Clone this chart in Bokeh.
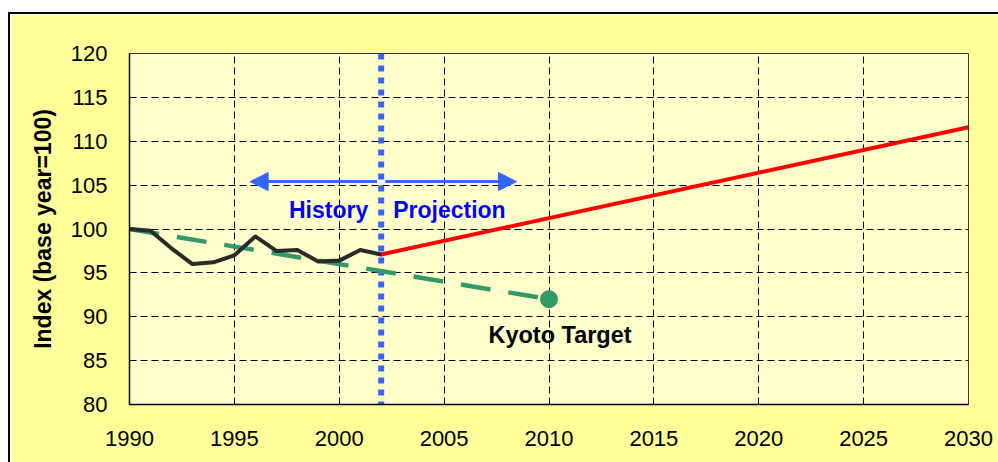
from bokeh.plotting import figure
from bokeh.models import (Range1d, FixedTicker, Arrow, NormalHead, Spacer)
from bokeh.layouts import column, row
from bokeh.core.properties import value
from bokeh.embed import file_html
from bokeh.resources import INLINE

# ---- data ----
history_years = [1990, 1991, 1992, 1993, 1994, 1995, 1996, 1997, 1998, 1999, 2000, 2001, 2002]
history_index = [100.0, 99.8, 97.8, 96.0, 96.2, 97.0, 99.15, 97.5, 97.6, 96.3, 96.4, 97.6, 97.1]

projection_years = [2002, 2030]
projection_index = [97.1, 111.6]

target_years = [1990, 2010]
target_index = [100.0, 92.0]

kyoto_year = [2010]
kyoto_value = [92.0]

divider_year = 2002
arrow_left_year = 1995.75
arrow_right_year = 2008.45
arrow_level = 105.4

x_ticks = [1990, 1995, 2000, 2005, 2010, 2015, 2020, 2025, 2030]
y_ticks = [80, 85, 90, 95, 100, 105, 110, 115, 120]

FONT = "Liberation Sans"

p = figure(width=988, height=448, output_backend="svg", toolbar_location=None,
           x_range=Range1d(1990, 2030), y_range=Range1d(80, 120),
           min_border_left=119, min_border_right=30, min_border_top=39, min_border_bottom=58)

p.background_fill_color = "#FFFFCC"
p.border_fill_color = "#FFFF99"
p.outline_line_color = "#333333"
p.outline_line_width = 1

# grids
for g in (p.xgrid, p.ygrid):
    g.grid_line_color = "black"
    g.grid_line_dash = "7 4"
    g.grid_line_width = 1
p.xgrid.ticker = FixedTicker(ticks=x_ticks)
p.ygrid.ticker = FixedTicker(ticks=y_ticks)

# axes
p.xaxis.ticker = FixedTicker(ticks=x_ticks)
p.yaxis.ticker = FixedTicker(ticks=y_ticks)
for ax in (p.xaxis, p.yaxis):
    ax.axis_line_color = "black"
    ax.axis_line_width = 1.5
    ax.major_tick_line_color = None
    ax.minor_tick_line_color = None
    ax.major_label_text_font = FONT
    ax.major_label_text_font_size = "22px"
    ax.major_label_text_color = "black"
p.xaxis.major_label_standoff = 20
p.yaxis.major_label_standoff = 16
p.yaxis.axis_label = "Index (base year=100)"
p.yaxis.axis_label_text_font = FONT
p.yaxis.axis_label_text_font_size = "23px"
p.yaxis.axis_label_text_font_style = "bold"
p.yaxis.axis_label_text_color = "black"
p.yaxis.axis_label_standoff = 12

# divider (dotted blue)
p.segment(x0=[divider_year], y0=[120], x1=[divider_year], y1=[80],
          line_color="#3366FF", line_width=6, line_dash="6 6", line_cap="butt")

# target line (green dashed)
p.line(target_years, target_index, line_color="#339966", line_width=4.5,
       line_dash="30 18", line_cap="butt")
p.scatter(kyoto_year, kyoto_value, size=17, marker="circle",
          fill_color="#339966", line_color="#339966")

# history and projection
p.line(history_years, history_index, line_color="#2A2A2A", line_width=4,
       line_join="round", line_cap="round")
p.line(projection_years, projection_index, line_color="#FF0000", line_width=4)

# arrows
head_l = NormalHead(size=18, fill_color="#3366FF", line_color="#3366FF")
head_r = NormalHead(size=18, fill_color="#3366FF", line_color="#3366FF")
p.add_layout(Arrow(end=head_l, x_start=divider_year - 0.2, y_start=arrow_level,
                   x_end=arrow_left_year, y_end=arrow_level,
                   line_color="#3366FF", line_width=3))
p.add_layout(Arrow(end=head_r, x_start=divider_year + 0.2, y_start=arrow_level,
                   x_end=arrow_right_year, y_end=arrow_level,
                   line_color="#3366FF", line_width=3))

# labels
p.text(x=[divider_year], y=[102.2], text=["History"], text_align="right",
       text_baseline="alphabetic", x_offset=-13,
       text_font=value(FONT), text_font_style="bold", text_font_size="23px", text_color="#0000FF")
p.text(x=[divider_year], y=[102.2], text=["Projection"], text_align="left",
       text_baseline="alphabetic", x_offset=12,
       text_font=value(FONT), text_font_style="bold", text_font_size="23px", text_color="#0000FF")
p.text(x=kyoto_year, y=[87.95], text=["Kyoto Target"], text_align="center",
       text_baseline="alphabetic", x_offset=11,
       text_font=value(FONT), text_font_style="bold", text_font_size="23.5px", text_color="black")

layout = column(
    Spacer(width=998, height=12),
    row(Spacer(width=8, height=450),
        Spacer(width=2, height=450, styles={"background-color": "black"}),
        column(Spacer(width=988, height=2, styles={"background-color": "black"}), p)),
)

open("out.html", "w").write(file_html(layout, INLINE))
